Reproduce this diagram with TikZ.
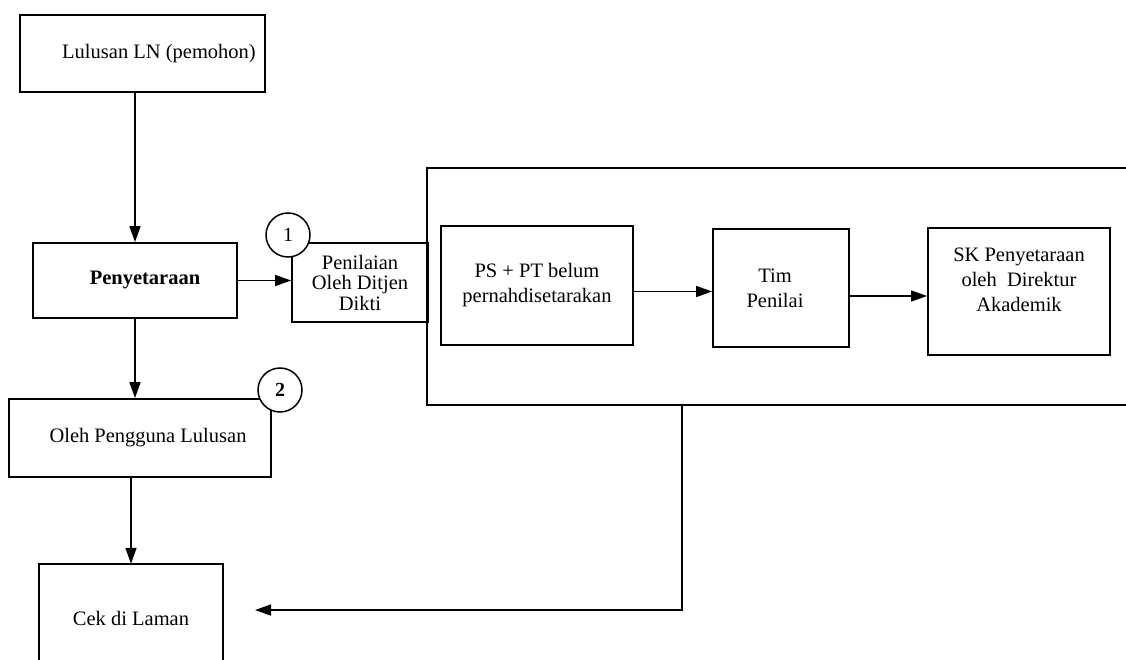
\documentclass[tikz,border=0pt]{standalone}
\usepackage{fontspec}
\setmainfont{Liberation Serif}
\usetikzlibrary{arrows.meta}
\begin{document}
\begin{tikzpicture}[x=1pt,y=-1pt]
\tikzset{
  box/.style={draw, line width=1.8pt, rectangle, align=center, inner sep=2pt, font=\fontsize{20.5}{25}\selectfont},
  plain/.style={rectangle, align=center, inner sep=2pt, font=\fontsize{20.5}{25}\selectfont},
  flow/.style={line width=1.5pt, -{Triangle[length=16pt,width=11pt]}},
  edge/.style={line width=1.6pt},
  num/.style={circle, draw, fill=white, line width=1.5pt, minimum size=44pt, inner sep=0pt, font=\fontsize{20}{20}\selectfont}
}
\useasboundingbox (0,0) rectangle (1126,660);
\fill[white] (0,0) rectangle (1126,660);

% left column
\node[box, minimum width=245pt, minimum height=77pt] (lulusan) at (142.5,53.5) {\hspace*{33pt}Lulusan LN (pemohon)};
\node[box, minimum width=204pt, minimum height=75pt] (peny) at (135,280.5) {\hspace*{20pt}\textbf{Penyetaraan}};
\node[box, minimum width=136pt, minimum height=79pt, font=\fontsize{20.5}{20.5}\selectfont] (penilaian) at (360,282.5) {Penilaian\\Oleh Ditjen\\Dikti};
\node[box, minimum width=262pt, minimum height=78pt] (oleh) at (140,438) {\hspace*{16pt}Oleh Pengguna Lulusan};
\node[plain, minimum width=184pt, minimum height=108pt] (cek) at (131,618) {Cek di Laman};
\draw[edge] (cek.south west) -- (cek.north west) -- (cek.north east) -- (cek.south east);

% group frame (open on the right)
\node[minimum width=713pt, minimum height=237pt, inner sep=0pt] (grp) at (783.5,286.5) {};
\draw[edge] (grp.north east) -- (grp.north west) -- (grp.south west) -- (grp.south east);

% inner boxes
\node[box, minimum width=192pt, minimum height=119pt] (ps) at (537,285.5) {PS + PT belum\\pernahdisetarakan};
\node[box, minimum width=136pt, minimum height=118pt] (tim) at (781,288) {Tim\hspace*{12pt}\\Penilai\hspace*{12pt}};
\node[box, minimum width=182pt, minimum height=127pt, text depth=23pt] (sk) at (1019,291.5) {SK Penyetaraan\\oleh~ Direktur\\Akademik};

% numbered circles
\node[num] (c1) at (288,235) {1};
\node[num] (c2) at (280,390) {\textbf{2}};

% connectors
\draw[flow] (peny.north |- lulusan.south) -- (peny.north);
\draw[flow] (peny.east) -- (peny.east -| penilaian.west);
\draw[flow] (peny.south) -- (peny.south |- oleh.north);
\draw[flow] (cek.north |- oleh.south) -- (cek.north);
\draw[flow] ([yshift=-6pt]ps.east) -- ([yshift=-6pt]ps.east -| tim.west);
\draw[flow] ([yshift=-8pt]tim.east) -- ([yshift=-8pt]tim.east -| sk.west);
\coordinate (grpout) at (682,405);
\coordinate (cekin) at (255,610);
\draw[flow] (grpout) |- (cekin);
\end{tikzpicture}
\end{document}
